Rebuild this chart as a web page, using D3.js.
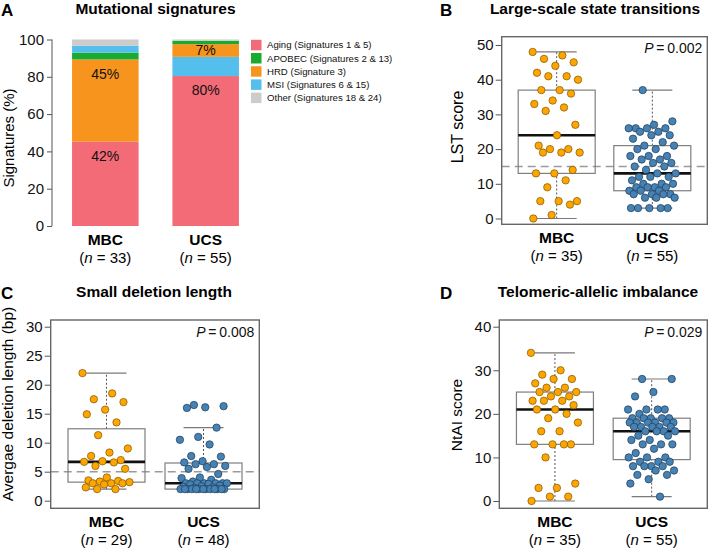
<!DOCTYPE html>
<html>
<head>
<meta charset="utf-8">
<script src="https://cdn.jsdelivr.net/npm/d3@7"></script>
<style>
  body { margin: 0; background: #fff; }
  svg { font-family: "Liberation Sans", Arial, sans-serif; }
</style>
</head>
<body>
<div id="chart"></div>
<script>
// ---- data ----
var groups = ['MBC', 'UCS']

// panel A: mutational signatures (% of signatures)
var sigNames = ['Aging (Signatures 1 & 5)', 'APOBEC (Signatures 2 & 13)', 'HRD (Signature 3)',
                'MSI (Signatures 6 & 15)', 'Other (Signatures 18 & 24)']
var sigColors = ['#f26b77', '#1aab2e', '#f7941d', '#54bfec', '#cccccc']
var sigMBC = [45.2, 3.6, 44.1, 3.7, 3.4]
var sigUCS = [80.4, 1.8, 6.8, 10.3, 0.7]
var orderMBC = [0, 2, 1, 3, 4]
var orderUCS = [0, 3, 2, 1, 4]
var labelMBC = ['42%', '', '45%', '', '']
var labelUCS = ['80%', '', '7%', '', '']
var nSig = [33, 55]

// panel B: LST score
var lstMBC = [48, 47, 46, 45, 44, 42, 41, 41, 40, 37, 37, 36, 34, 33, 32, 31, 27, 24, 21, 20, 20,
  19, 19, 19, 14, 13, 13, 11, 9, 5, 5, 5, 4, 1, 0]
var lstUCS = [37, 28, 27, 26, 26, 26, 26, 25, 25, 24, 24, 23, 22, 21, 21, 20, 20, 18, 18, 18, 17,
  17, 16, 16, 15, 15, 14, 13, 13, 12, 12, 12, 11, 10, 10, 10, 9, 9, 9, 9, 8, 8, 8, 7, 7, 7, 7,
  6, 6, 6, 3, 3, 3, 3, 3]
var lstStats = [[0, 13, 24, 37, 48], [3, 8, 13, 21, 37]]
var nLst = [35, 55]

// panel C: small deletion length
var delMBC = [22, 18.5, 17.5, 17, 15.7, 14.9, 13.5, 11.3, 9, 8.3, 7.7, 7, 6.8, 6.7, 6.6, 6, 5.5,
  4, 3.5, 3.4, 3.3, 3.2, 3, 3, 3, 2.8, 2.3, 2, 2]
var delUCS = [16.5, 16.3, 16.1, 16, 12.6, 11, 10.5, 9.7, 7.7, 7.6, 6.8, 6.6, 6.3, 6.3, 6, 5.8,
  5.5, 4.6, 4, 3.9, 3.6, 3.3, 3, 3, 3, 3, 3, 3, 2.9, 2.8, 2.6, 2.5, 2.4, 2.3, 2.2,
  2, 2, 2, 2, 2, 2, 2, 2, 2, 2, 2, 2, 2]
var delStats = [[2, 3.2, 6.7, 12.4, 22], [2, 2, 3, 6.5, 12.6]]
var nDel = [29, 48]

// panel D: NtAI score
var ntaiMBC = [34, 30, 29, 28, 28, 27, 26, 26, 25, 25, 25, 24, 24, 23, 23, 23, 22, 21, 21, 20,
  19, 18, 16, 16, 13, 13, 13, 13, 10, 4, 3, 3, 1, 1, 0]
var ntaiUCS = [28, 28, 25, 24, 21, 21, 21, 21, 20, 19, 19, 19, 19, 19, 18, 18, 18, 18, 18, 18,
  17, 17, 17, 17, 17, 16, 16, 16, 16, 15, 15, 14, 14, 13, 13, 13, 12, 11, 10, 10, 10,
  9, 9, 9, 8, 8, 8, 8, 7, 7, 6, 6, 5, 4, 1]
var ntaiStats = [[0, 13, 21, 25, 34], [1, 9.5, 16, 19, 28]]
var nNtai = [35, 55]

var pointFill = ['#ffa500', '#4682b4']
var pointStroke = ['#7d5600', '#1d3b58']

var svg = d3.select('#chart').append('svg')
  .attr('width', 709)
  .attr('height', 549)

function groupLabels(g, x, y, ns) {
  groups.forEach(function (grp, i) {
    g.append('text').attr('x', x(grp)).attr('y', y)
      .attr('text-anchor', 'middle').attr('font-weight', 'bold').attr('font-size', 15.5)
      .text(grp)
    var t = g.append('text').attr('x', x(grp)).attr('y', y + 18)
      .attr('text-anchor', 'middle').attr('font-size', 15)
    t.append('tspan').text('(')
    t.append('tspan').attr('font-style', 'italic').text('n')
    t.append('tspan').text(' = ' + ns[i] + ')')
  })
}

// ---- panel A ----
function stackedPanel() {
  var g = svg.append('g')
  var y = d3.scaleLinear().domain([0, 100]).range([226, 39.5])
  var x = d3.scaleBand().domain(groups).range([55, 256]).paddingInner(0.337).paddingOuter(0.17)

  g.append('g').attr('transform', 'translate(52,0)')
    .call(d3.axisLeft(y).tickValues([0, 20, 40, 60, 80, 100]).tickSize(5).tickPadding(3))
    .call(function (a) {
      a.select('.domain').attr('stroke', '#555').attr('d', 'M0,' + y(0) + 'V' + y(100))
      a.selectAll('.tick line').attr('stroke', '#555')
      a.selectAll('text').attr('font-size', 15).attr('fill', '#111')
      a.attr('font-family', null)
    })

  var sets = [[sigMBC, orderMBC, labelMBC], [sigUCS, orderUCS, labelUCS]]
  sets.forEach(function (s, gi) {
    var base = 0
    s[1].forEach(function (k) {
      var v = s[0][k], top = base + v
      g.append('rect')
        .attr('x', x(groups[gi])).attr('width', x.bandwidth())
        .attr('y', y(Math.min(top, 100))).attr('height', y(base) - y(Math.min(top, 100)))
        .attr('fill', sigColors[k])
      if (s[2][k]) {
        var ly = Math.min(y(top) + 14.5, y(base + v / 2))
        g.append('text').attr('x', x(groups[gi]) + x.bandwidth() / 2).attr('y', ly)
          .attr('dy', '0.35em').attr('text-anchor', 'middle').attr('font-size', 14)
          .attr('fill', '#111').text(s[2][k])
      }
      base = top
    })
  })

  // legend
  var leg = g.append('g').attr('transform', 'translate(251,45)')
  sigNames.forEach(function (name, i) {
    leg.append('rect').attr('x', 0).attr('y', i * 13.2 - 5.2).attr('width', 10.5).attr('height', 10.5)
      .attr('fill', sigColors[i])
    leg.append('text').attr('x', 16).attr('y', i * 13.2).attr('dy', '0.35em')
      .attr('font-size', 9.6).attr('fill', '#111').text(name)
  })

  g.append('text').attr('x', 155.5).attr('y', 14).attr('text-anchor', 'middle')
    .attr('font-weight', 'bold').attr('font-size', 15.5).text('Mutational signatures')
  g.append('text').attr('x', 1).attr('y', 16).attr('font-weight', 'bold').attr('font-size', 17).text('A')
  g.append('text').attr('transform', 'translate(9,138) rotate(-90)').attr('text-anchor', 'middle')
    .attr('dy', '0.35em').attr('font-size', 15).text('Signatures (%)')

  var xc = function (grp) { return x(grp) + x.bandwidth() / 2 }
  groupLabels(g, xc, 245, nSig)
}

// ---- box + jitter panels ----
function boxPanel(cfg) {
  var g = svg.append('g')
  var f = cfg.frame
  var y = d3.scaleLinear().domain(cfg.domain).range(cfg.yRange)
  var x = d3.scalePoint().domain(groups).range([f.x0, f.x1]).padding(0.575)
  var jit = d3.scaleLinear().domain([-1, 1]).range([-24, 24])
  var half = 38.5, cap = 20

  g.append('g').attr('transform', 'translate(' + f.x0 + ',0)')
    .call(d3.axisLeft(y).tickValues(cfg.ticks).tickSize(6).tickPadding(2))
    .call(function (a) {
      a.select('.domain').remove()
      a.selectAll('.tick line').attr('stroke', '#555')
      a.selectAll('text').attr('font-size', 15).attr('fill', '#111')
      a.attr('font-family', null)
    })

  if (cfg.cutoff != null) {
    g.append('line').attr('x1', f.x0).attr('x2', f.x1)
      .attr('y1', y(cfg.cutoff)).attr('y2', y(cfg.cutoff))
      .attr('stroke', '#9a9a9a').attr('stroke-width', 1.6).attr('stroke-dasharray', '8,5')
  }

  cfg.stats.forEach(function (s, i) {
    var cx = x(groups[i])
    // whiskers
    g.append('line').attr('x1', cx).attr('x2', cx).attr('y1', y(s[3])).attr('y2', y(s[4]))
      .attr('stroke', '#555').attr('stroke-dasharray', '2,2')
    g.append('line').attr('x1', cx).attr('x2', cx).attr('y1', y(s[0])).attr('y2', y(s[1]))
      .attr('stroke', '#555').attr('stroke-dasharray', '2,2')
    ;[s[0], s[4]].forEach(function (v) {
      g.append('line').attr('x1', cx - cap).attr('x2', cx + cap).attr('y1', y(v)).attr('y2', y(v))
        .attr('stroke', '#7a7a7a').attr('stroke-width', 1.2)
    })
    g.append('rect').attr('x', cx - half).attr('width', half * 2)
      .attr('y', y(s[3])).attr('height', y(s[1]) - y(s[3]))
      .attr('fill', 'none').attr('stroke', '#7f7f7f').attr('stroke-width', 1.2)
    g.append('line').attr('x1', cx - half).attr('x2', cx + half).attr('y1', y(s[2])).attr('y2', y(s[2]))
      .attr('stroke', '#111').attr('stroke-width', 2.6)
  })

  cfg.values.forEach(function (vals, i) {
    g.append('g').selectAll('circle')
      .data(vals)
      .enter()
      .append('circle')
      .attr('cx', function (d, k) { return x(groups[i]) + jit(((k * 0.6180339887 + i * 0.3) % 1) * 2 - 1) })
      .attr('cy', function (d) { return y(d) })
      .attr('r', 3.7)
      .attr('fill', pointFill[i])
      .attr('stroke', pointStroke[i])
      .attr('stroke-width', 0.7)
  })

  g.append('rect').attr('x', f.x0).attr('y', f.y0).attr('width', f.x1 - f.x0).attr('height', f.y1 - f.y0)
    .attr('fill', 'none').attr('stroke', '#666').attr('stroke-width', 1.4)

  var pt = g.append('text').attr('x', f.x1 - 5).attr('y', f.y0 + 16.5).attr('text-anchor', 'end')
    .attr('font-size', 14).attr('fill', '#111')
  pt.append('tspan').attr('font-style', 'italic').text('P')
  pt.append('tspan').text('\u2009=\u2009' + cfg.p)

  g.append('text').attr('x', cfg.titleX).attr('y', f.y0 - 23).attr('text-anchor', 'middle')
    .attr('font-weight', 'bold').attr('font-size', 15.5).text(cfg.title)
  g.append('text').attr('x', cfg.letterX).attr('y', f.y0 - 21).attr('font-weight', 'bold')
    .attr('font-size', 17).text(cfg.letter)
  g.append('text').attr('transform', 'translate(' + cfg.ylabX + ',' + cfg.ylabY + ') rotate(-90)')
    .attr('text-anchor', 'middle').attr('dy', '0.35em').attr('font-size', cfg.ylabSize).text(cfg.ylab)

  groupLabels(g, x, f.y1 + 18.5, cfg.ns)
}

stackedPanel()

boxPanel({
  frame: { x0: 501.7, x1: 707.3, y0: 36.7, y1: 224.3 },
  domain: [0, 50], yRange: [218.5, 45], ticks: [0, 10, 20, 30, 40, 50],
  stats: lstStats, values: [lstMBC, lstUCS], ns: nLst, cutoff: 15, p: '0.002',
  title: 'Large-scale state transitions', titleX: 595, letter: 'B', letterX: 440,
  ylab: 'LST score', ylabX: 457, ylabY: 127, ylabSize: 16
})

boxPanel({
  frame: { x0: 50.7, x1: 259.3, y0: 320, y1: 508.3 },
  domain: [0, 30], yRange: [500.7, 326.7], ticks: [0, 5, 10, 15, 20, 25, 30],
  stats: delStats, values: [delMBC, delUCS], ns: nDel, cutoff: 5, p: '0.008',
  title: 'Small deletion length', titleX: 154, letter: 'C', letterX: 1,
  ylab: 'Avergae deletion length (bp)', ylabX: 8, ylabY: 404, ylabSize: 15.5
})

boxPanel({
  frame: { x0: 499.3, x1: 707.3, y0: 320, y1: 508.3 },
  domain: [0, 40], yRange: [501, 326.7], ticks: [0, 10, 20, 30, 40],
  stats: ntaiStats, values: [ntaiMBC, ntaiUCS], ns: nNtai, cutoff: null, p: '0.029',
  title: 'Telomeric-allelic imbalance', titleX: 598, letter: 'D', letterX: 440,
  ylab: 'NtAI score', ylabX: 457, ylabY: 415, ylabSize: 15.5
})
</script>
</body>
</html>
